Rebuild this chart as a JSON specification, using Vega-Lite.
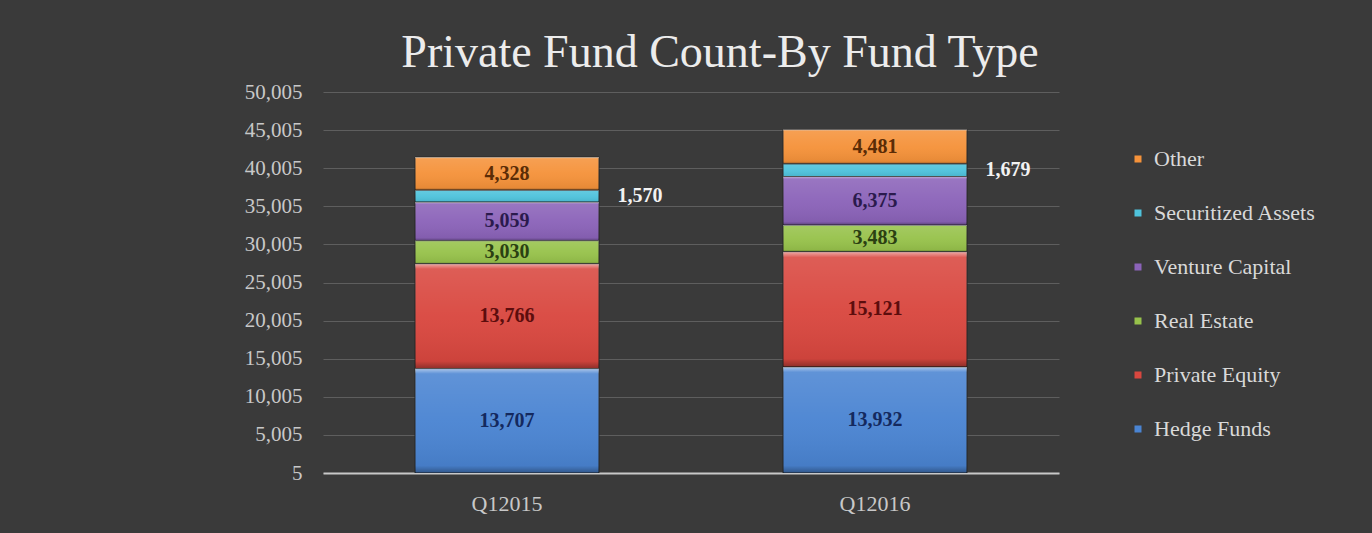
{
  "$schema": "https://vega.github.io/schema/vega-lite/v6.json",
  "width": 736,
  "height": 381,
  "autosize": {"type": "none"},
  "padding": {"left": 323, "top": 92, "right": 313, "bottom": 60},
  "background": "#3a3a3a",
  "view": {"stroke": null},
  "title": {
    "text": "Private Fund Count-By Fund Type",
    "font": "Liberation Serif",
    "fontSize": 46,
    "fontWeight": "normal",
    "color": "#ececec",
    "anchor": "middle",
    "offset": 4,
    "dx": 29
  },
  "data": {
    "values": [
      {"quarter": "Q12015", "type": "Hedge Funds", "count": 13707},
      {"quarter": "Q12015", "type": "Private Equity", "count": 13766},
      {"quarter": "Q12015", "type": "Real Estate", "count": 3030},
      {"quarter": "Q12015", "type": "Venture Capital", "count": 5059},
      {"quarter": "Q12015", "type": "Securitized Assets", "count": 1570},
      {"quarter": "Q12015", "type": "Other", "count": 4328},
      {"quarter": "Q12016", "type": "Hedge Funds", "count": 13932},
      {"quarter": "Q12016", "type": "Private Equity", "count": 15121},
      {"quarter": "Q12016", "type": "Real Estate", "count": 3483},
      {"quarter": "Q12016", "type": "Venture Capital", "count": 6375},
      {"quarter": "Q12016", "type": "Securitized Assets", "count": 1679},
      {"quarter": "Q12016", "type": "Other", "count": 4481}
    ]
  },
  "encoding": {
    "x": {
      "field": "quarter",
      "type": "nominal",
      "scale": {"paddingInner": 0.5, "paddingOuter": 0.25},
      "axis": {
        "title": null,
        "labelAngle": 0,
        "labelFont": "Liberation Serif",
        "labelFontSize": 22,
        "labelColor": "#c8c8c8",
        "labelPadding": 20,
        "ticks": false,
        "domainColor": "#c8c8c8",
        "domainWidth": 2,
        "grid": false
      }
    },
    "y": {
      "field": "count",
      "type": "quantitative",
      "stack": "zero",
      "scale": {"domain": [5, 50005], "nice": false, "zero": false},
      "axis": {
        "title": null,
        "values": [5, 5005, 10005, 15005, 20005, 25005, 30005, 35005, 40005, 45005, 50005],
        "format": ",d",
        "labelFont": "Liberation Serif",
        "labelFontSize": 21,
        "labelColor": "#c8c8c8",
        "labelPadding": 21,
        "ticks": false,
        "domain": false,
        "grid": true,
        "gridColor": "#5e5e5e",
        "gridWidth": 1
      }
    },
    "order": {"field": "color_type_sort_index", "type": "quantitative", "sort": "descending"}
  },
  "layer": [
    {
      "mark": {"type": "bar", "stroke": "#262626", "strokeWidth": 1, "clip": true},
      "encoding": {
        "color": {
          "field": "type",
          "type": "nominal",
          "sort": ["Other", "Securitized Assets", "Venture Capital", "Real Estate", "Private Equity", "Hedge Funds"],
          "scale": {
            "domain": ["Other", "Securitized Assets", "Venture Capital", "Real Estate", "Private Equity", "Hedge Funds"],
            "range": ["#f5923a", "#4fc3dc", "#8b63b9", "#97c24b", "#d9473f", "#4a84d2"]
          },
          "legend": {
            "orient": "none",
            "legendX": 804,
            "legendY": 56,
            "title": null,
            "symbolType": "square",
            "symbolSize": 49,
            "symbolStrokeWidth": 0,
            "labelFont": "Liberation Serif",
            "labelFontSize": 22,
            "labelColor": "#d9d9d9",
            "labelOffset": 5,
            "labelLimit": 300,
            "rowPadding": 32
          }
        }
      }
    },
    {
      "mark": {
        "type": "bar",
        "clip": true,
        "fill": {
          "gradient": "linear", "x1": 0, "y1": 0, "x2": 0, "y2": 1,
          "stops": [
            {"offset": 0, "color": "rgba(255,255,255,0.55)"},
            {"offset": 0.05, "color": "rgba(255,255,255,0.12)"},
            {"offset": 0.5, "color": "rgba(255,255,255,0.04)"},
            {"offset": 0.93, "color": "rgba(0,0,0,0.06)"},
            {"offset": 1, "color": "rgba(0,0,0,0.35)"}
          ]
        }
      },
      "encoding": {
        "strokeOpacity": {
          "field": "type",
          "type": "nominal",
          "sort": ["Other", "Securitized Assets", "Venture Capital", "Real Estate", "Private Equity", "Hedge Funds"],
          "legend": null
        },
        "order": {"field": "strokeOpacity_type_sort_index", "type": "quantitative", "sort": "descending"}
      }
    },
    {
      "mark": {"type": "text", "font": "Liberation Serif", "fontSize": 20, "fontWeight": "bold", "baseline": "middle"},
      "encoding": {
        "y": {"field": "count", "type": "quantitative", "stack": "zero", "bandPosition": 0.5},
        "text": {"field": "count", "type": "quantitative", "format": ","},
        "color": {
          "field": "type",
          "type": "nominal",
          "sort": ["Other", "Securitized Assets", "Venture Capital", "Real Estate", "Private Equity", "Hedge Funds"],
          "scale": {
            "domain": ["Other", "Securitized Assets", "Venture Capital", "Real Estate", "Private Equity", "Hedge Funds"],
            "range": ["#5b2c06", "#ffffff", "#2b1a4d", "#2b4012", "#5c0d0d", "#14295e"]
          },
          "legend": null
        },
        "opacity": {"condition": {"test": "datum.type === 'Securitized Assets'", "value": 0}, "value": 1}
      }
    },
    {
      "mark": {"type": "text", "font": "Liberation Serif", "fontSize": 20, "fontWeight": "bold", "baseline": "middle", "dx": 133},
      "encoding": {
        "y": {"field": "count", "type": "quantitative", "stack": "zero", "bandPosition": 0.5},
        "text": {"field": "count", "type": "quantitative", "format": ","},
        "color": {
          "field": "type",
          "type": "nominal",
          "sort": ["Other", "Securitized Assets", "Venture Capital", "Real Estate", "Private Equity", "Hedge Funds"],
          "scale": {
            "domain": ["Other", "Securitized Assets", "Venture Capital", "Real Estate", "Private Equity", "Hedge Funds"],
            "range": ["#5b2c06", "#f2f2f2", "#2b1a4d", "#2b4012", "#5c0d0d", "#14295e"]
          },
          "legend": null
        },
        "opacity": {"condition": {"test": "datum.type === 'Securitized Assets'", "value": 1}, "value": 0}
      }
    }
  ],
  "resolve": {"scale": {"color": "independent"}}
}
